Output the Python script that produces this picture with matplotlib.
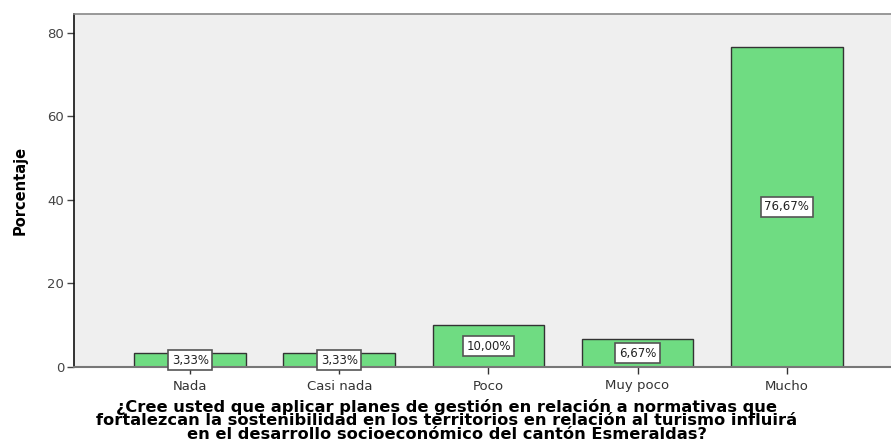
import matplotlib
matplotlib.use("Agg")
import matplotlib.pyplot as plt

# datos del gráfico
categorias = ["Nada", "Casi nada", "Poco", "Muy poco", "Mucho"]
porcentajes = [3.33, 3.33, 10.00, 6.67, 76.67]
etiquetas = ["3,33%", "3,33%", "10,00%", "6,67%", "76,67%"]
titulo_x = ("¿Cree usted que aplicar planes de gestión en relación a normativas que\n"
            "fortalezcan la sostenibilidad en los territorios en relación al turismo influirá\n"
            "en el desarrollo socioeconómico del cantón Esmeraldas?")

fig = plt.figure(figsize=(8.91, 4.43), dpi=100)
ax = fig.add_axes([74 / 891, 76 / 443, 817 / 891, 353 / 443])
ax.set_facecolor("#efefef")

x = range(len(categorias))
ax.bar(x, porcentajes, width=0.75, color="#6fdc82", edgecolor="#333333", linewidth=1.0, zorder=2)

# etiquetas de valor en el centro de cada barra
for xi, v, t in zip(x, porcentajes, etiquetas):
    ax.text(xi, v / 2, t, ha="center", va="center", fontsize=8.5, color="#222222", zorder=3,
            bbox=dict(boxstyle="square,pad=0.3", facecolor="white", edgecolor="#555555", linewidth=1.2))

ax.set_xlim(-0.78, 4.70)
ax.set_ylim(0, 84.5)
ax.set_yticks([0, 20, 40, 60, 80])
ax.set_xticks(list(x))
ax.set_xticklabels(categorias)
ax.tick_params(axis="y", direction="out", length=5, width=1, colors="#444444", labelsize=9.5, pad=2)
ax.tick_params(axis="x", direction="out", length=5, width=1, colors="#333333", labelsize=9.5, pad=4)

ax.spines["left"].set_color("#111111")
ax.spines["left"].set_linewidth(1.2)
ax.spines["top"].set_color("#888888")
ax.spines["top"].set_linewidth(1.2)
ax.spines["bottom"].set_color("#777777")
ax.spines["bottom"].set_linewidth(1.5)
ax.spines["right"].set_visible(False)

ax.set_ylabel("Porcentaje", fontsize=10.5, fontweight="bold",
              family=["Liberation Sans Narrow", "DejaVu Sans Condensed", "DejaVu Sans"], labelpad=14)
ax.set_xlabel(titulo_x, fontsize=11.7, fontweight="bold", linespacing=0.88)
ax.xaxis.set_label_coords(0.456, -0.09)
ax.xaxis.label.set_va("top")

fig.savefig("out.png", dpi=100)
